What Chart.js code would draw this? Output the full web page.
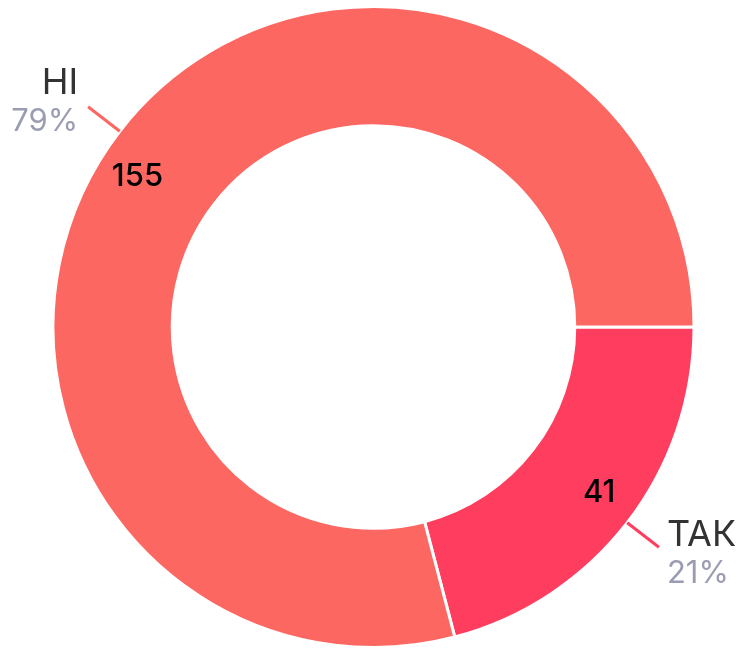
<!DOCTYPE html>
<html>
<head>
<meta charset="utf-8">
<script src="https://cdn.jsdelivr.net/npm/chart.js@4"></script>
<style>
  html, body { margin: 0; padding: 0; background: #fff; }
  #wrap { width: 743px; height: 649px; }
</style>
</head>
<body>
<div id="wrap"><canvas id="chart"></canvas></div>
<script>
  // data
  var labels = ['ТАК', 'НІ'];
  var values = [41, 155];
  var colors = ['#ff3e5f', '#fc6761'];

  var total = values.reduce(function (a, b) { return a + b; }, 0);

  // labels outside + values inside the ring
  var ringLabels = {
    id: 'ringLabels',
    afterDatasetsDraw: function (chart) {
      var ctx = chart.ctx;
      var meta = chart.getDatasetMeta(0);
      meta.data.forEach(function (arc, i) {
        var mid = (arc.startAngle + arc.endAngle) / 2;
        var cos = Math.cos(mid), sin = Math.sin(mid);
        var cx = arc.x, cy = arc.y;
        var outer = arc.outerRadius, inner = arc.innerRadius;

        // value inside the ring, a bit before the middle of the arc
        var va = arc.startAngle + (arc.endAngle - arc.startAngle) * 0.482;
        var rv = inner + (outer - inner) * 0.66;
        ctx.save();
        ctx.font = '500 31px Inter';
        ctx.fillStyle = '#000';
        ctx.textAlign = 'center';
        ctx.textBaseline = 'middle';
        ctx.fillText(values[i], cx + rv * Math.cos(va), cy + rv * Math.sin(va));

        // leader line
        var x1 = cx + outer * cos, y1 = cy + outer * sin;
        var x2 = cx + (outer + 40) * cos, y2 = cy + (outer + 40) * sin;
        ctx.strokeStyle = colors[i];
        ctx.lineWidth = 3;
        ctx.beginPath();
        ctx.moveTo(x1, y1);
        ctx.lineTo(x2, y2);
        ctx.stroke();

        // name + percent
        var right = cos >= 0;
        var tx = right ? x2 + 8 : x2 - 10;
        var dy = sin < 0 ? -13 : -1;
        ctx.textAlign = right ? 'left' : 'right';
        ctx.textBaseline = 'alphabetic';
        ctx.font = '36px Inter';
        ctx.fillStyle = '#333';
        ctx.fillText(labels[i], tx, y2 + dy);
        ctx.font = '31px Inter';
        ctx.fillStyle = '#9a9db1';
        ctx.fillText(Math.round(values[i] / total * 100) + '%', tx, y2 + dy + 37);
        ctx.restore();
      });
    }
  };

  var chart = new Chart(document.getElementById('chart'), {
    type: 'doughnut',
    data: {
      labels: labels,
      datasets: [{
        data: values,
        backgroundColor: colors,
        borderColor: '#fff',
        borderWidth: 3
      }]
    },
    options: {
      responsive: true,
      maintainAspectRatio: false,
      animation: false,
      rotation: 90,
      cutout: '62.8%',
      layout: { padding: { top: 5, bottom: -1, left: 4, right: 0 } },
      plugins: {
        legend: { display: false },
        tooltip: { enabled: false }
      }
    },
    plugins: [ringLabels]
  });
</script>
</body>
</html>
